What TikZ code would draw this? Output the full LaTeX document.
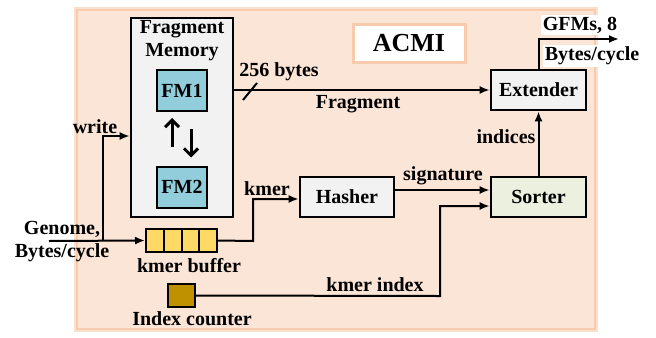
\documentclass[tikz,border=0pt]{standalone}
\usepackage{fontspec}
\setmainfont{Liberation Serif}
\usetikzlibrary{arrows.meta}
\definecolor{acmibg}{HTML}{FBE5D6}
\definecolor{acmiedge}{HTML}{F8CBAD}
\definecolor{memgray}{HTML}{F2F2F2}
\definecolor{fmblue}{HTML}{92CDDC}
\definecolor{bufyellow}{HTML}{FFD966}
\definecolor{cntgold}{HTML}{BF9000}
\definecolor{sortgreen}{HTML}{EBF1DE}
\begin{document}
\begin{tikzpicture}[x=0.5pt,y=-0.5pt,
    font=\bfseries\fontsize{10}{11.5}\selectfont,
    blk/.style={draw,line width=1.3pt,fill=memgray,minimum width=47.5pt,minimum height=20pt,inner sep=0pt},
    fmblk/.style={draw,line width=1pt,fill=fmblue,minimum width=25pt,minimum height=20.5pt,inner sep=0pt},
    cell/.style={draw,line width=1pt,fill=bufyellow,minimum width=8.875pt,minimum height=11.5pt,inner sep=0pt},
    lbl/.style={inner sep=0pt,align=center},
    arr/.style={line width=1pt,-{Latex[length=5pt,width=4pt]}},
    swap/.style={line width=1.5pt,-{Straight Barb[length=3.5pt,width=7pt]}}]
  \useasboundingbox (0,0) rectangle (656,337);
  \node[draw=acmiedge!60,line width=3pt,minimum width=259pt,minimum height=159.5pt] (glow) at (336,169.5) {};
  \node[draw=acmiedge,fill=acmibg,line width=1.2pt,minimum width=259pt,minimum height=159.5pt] (frame) at (336,169.5) {};
  \node[draw=acmiedge,fill=white,line width=1.5pt,minimum width=56pt,minimum height=19pt,
    font=\bfseries\fontsize{13}{15}\selectfont] (acmi) at (409,43) {ACMI};

  \node[blk,minimum width=51pt,minimum height=99.5pt] (fm) at (182,117.5) {};
  \node[lbl] (fmtitle) at (182,41) {Fragment\\Memory};
  \node[fmblk] (fm1) at (182,90.5) {FM1};
  \node[fmblk] (fm2) at (182,187) {FM2};
  \node[blk] (ext) at (538.5,90) {Extender};
  \node[blk,minimum width=47pt] (hasher) at (347,197) {Hasher};
  \node[blk,fill=sortgreen] (sorter) at (538.5,197) {Sorter};
  \foreach \i in {0,...,3}
    \node[cell] (b\i) at (154.875+17.75*\i,240.5) {};
  \node[lbl] (buflabel) at (189,266) {kmer buffer};
  \node[draw,line width=1pt,fill=cntgold,minimum width=13.5pt,minimum height=11.5pt,inner sep=0pt] (ctr) at (181.5,295.5) {};
  \node[lbl] (ctrlabel) at (192,319) {Index counter};
  \node[lbl] (genome) at (62,241.5) {Genome,\\Bytes/cycle};

  \coordinate (gin) at (49,241);
  \coordinate (split) at (103,241);
  \coordinate (kturn) at (253,241);
  \coordinate (iturn) at (440,296);
  \coordinate (gout) at (619,39);

  \begin{scope}
    \draw[arr] (gin) -- (b0.west);
    \draw[arr] (split) |- ([yshift=-9.25pt]fm.west);
    \draw[arr] (b3.east) -- (kturn) |- ([yshift=-1pt]hasher.west);
    \draw[arr] ([yshift=3.5pt]hasher.east) -- ([yshift=3.5pt]sorter.west);
    \draw[arr] (ctr.east) -- (iturn) |- ([yshift=-4.5pt]sorter.west);
    \draw[arr] (sorter.north) -- (ext.south);
    \draw[arr] (fm.east |- ext.west) -- (ext.west);
    \draw[arr] (ext.north) |- (gout);
    \draw[swap] ([xshift=-5pt,yshift=9.5pt]fm2.north) -- ([xshift=-5pt,yshift=-3pt]fm1.south);
    \draw[swap] ([xshift=4.5pt,yshift=-8.5pt]fm1.south) -- ([xshift=4.5pt,yshift=4pt]fm2.north);
    \draw[line width=1pt] (243,100) -- (257,83);
  \end{scope}

  \node[lbl] (write) at (95,127) {write};
  \node[lbl] (bytes) at (279,72) {256 bytes};
  \node[lbl] (frag) at (358,104) {Fragment};
  \node[lbl] (kmer) at (267,189) {kmer};
  \node[lbl] (sig) at (443,176) {signature};
  \node[lbl] (kidx) at (375,285) {kmer index};
  \node[lbl] (idx) at (506,137) {indices};
  \node[lbl,fill=white,inner sep=1pt] (gfms) at (580,25) {GFMs, 8};
  \node[lbl,fill=white,inner sep=1pt] (rate) at (592,56) {Bytes/cycle};
\end{tikzpicture}
\end{document}
